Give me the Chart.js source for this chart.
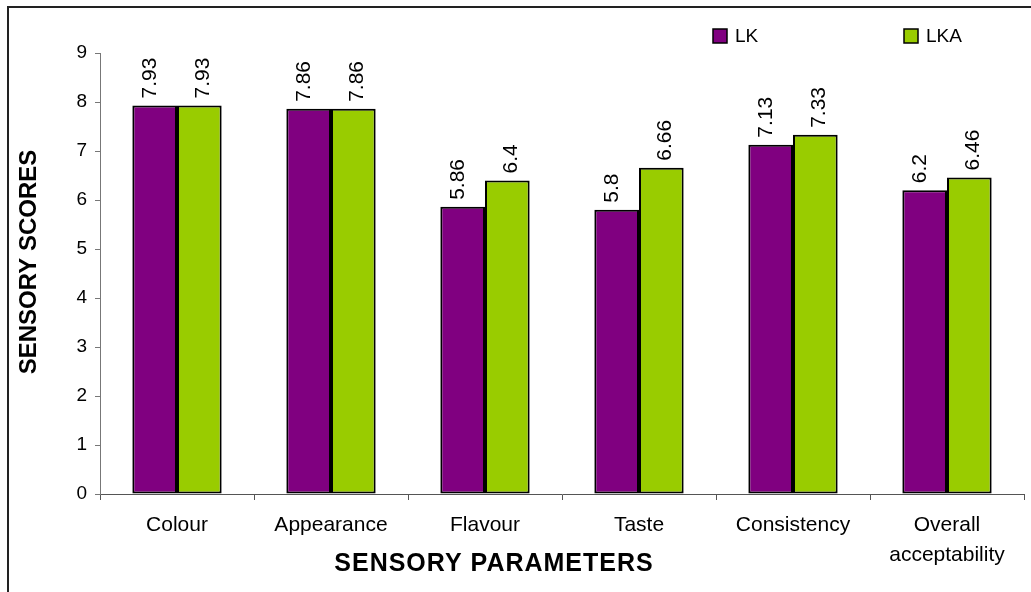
<!DOCTYPE html>
<html>
<head>
<meta charset="utf-8">
<script src="https://cdn.jsdelivr.net/npm/chart.js@4.4.1/dist/chart.umd.min.js"></script>
<style>
    html, body { margin: 0; padding: 0; background: #fff; }
    #wrap { width: 1031px; height: 592px; position: relative; }
</style>
</head>
<body>
<div id="wrap"><canvas id="sensoryChart"></canvas></div>
<script>
// Parámetros sensoriales y puntuaciones
const parametros = ['Colour', 'Appearance', 'Flavour', 'Taste', 'Consistency', ['Overall', 'acceptability']];
const puntajesLK = [7.93, 7.86, 5.86, 5.8, 7.13, 6.2];
const puntajesLKA = [7.93, 7.86, 6.4, 6.66, 7.33, 6.46];
const yTicks = [0, 1, 2, 3, 4, 5, 6, 7, 8, 9];

const FONT = 'Arial, "Liberation Sans", sans-serif';

// Marco, títulos de ejes, leyenda y etiquetas de valor
const extras = {
    id: 'extras',
    afterDraw(chart) {
        const ctx = chart.ctx;
        ctx.save();

        // marco exterior
        ctx.strokeStyle = '#222';
        ctx.lineWidth = 2;
        ctx.strokeRect(8, 7, 1040, 600);

        // títulos de ejes
        ctx.fillStyle = '#000';
        ctx.textAlign = 'center';
        ctx.textBaseline = 'middle';
        ctx.save();
        ctx.font = 'bold 25px ' + FONT;
        ctx.letterSpacing = '1px';
        ctx.fillText('SENSORY PARAMETERS', 494, 564);
        ctx.restore();
        ctx.save();
        ctx.font = 'bold 24px ' + FONT;
        ctx.translate(29, 262);
        ctx.rotate(-Math.PI / 2);
        ctx.fillText('SENSORY SCORES', 0, 0);
        ctx.restore();

        // leyenda
        const legendX = [713, 904];
        ctx.font = '19px ' + FONT;
        ctx.textAlign = 'left';
        chart.data.datasets.forEach((ds, i) => {
            const x = legendX[i];
            ctx.fillStyle = ds.backgroundColor;
            ctx.fillRect(x, 29, 14, 14);
            ctx.strokeStyle = '#000';
            ctx.lineWidth = 1.5;
            ctx.strokeRect(x, 29, 14, 14);
            ctx.fillStyle = '#000';
            ctx.fillText(ds.label, x + 22, 37);
        });

        // valores sobre las barras
        ctx.font = '21px ' + FONT;
        ctx.textAlign = 'left';
        ctx.textBaseline = 'middle';
        chart.data.datasets.forEach((ds, i) => {
            const meta = chart.getDatasetMeta(i);
            const shift = i === 0 ? -4 : 4;
            meta.data.forEach((bar, j) => {
                ctx.save();
                ctx.translate(bar.x + shift, bar.y - 7);
                ctx.rotate(-Math.PI / 2);
                ctx.fillText(String(ds.data[j]), 0, 0);
                ctx.restore();
            });
        });
        ctx.restore();
    }
};

const ctx = document.getElementById('sensoryChart').getContext('2d');
const chart = new Chart(ctx, {
    type: 'bar',
    data: {
        labels: parametros,
        datasets: [
            {
                label: 'LK',
                data: puntajesLK,
                backgroundColor: '#800080',
                borderColor: '#000',
                borderWidth: 2,
                borderSkipped: false
            },
            {
                label: 'LKA',
                data: puntajesLKA,
                backgroundColor: '#99CC00',
                borderColor: '#000',
                borderWidth: 2,
                borderSkipped: false
            }
        ]
    },
    options: {
        responsive: true,
        maintainAspectRatio: false,
        animation: false,
        layout: {
            padding: { left: 0, top: 53, right: 7, bottom: 0 }
        },
        datasets: {
            bar: { categoryPercentage: 0.58, barPercentage: 1 }
        },
        scales: {
            x: {
                offset: true,
                grid: {
                    offset: true,
                    drawOnChartArea: false,
                    drawTicks: true,
                    tickLength: 6,
                    color: '#555'
                },
                border: { display: true, color: '#555', width: 1 },
                ticks: {
                    color: '#000',
                    padding: 10,
                    font: { family: FONT, size: 21, lineHeight: 1.43 }
                },
                afterFit: (scale) => { scale.height = 98; }
            },
            y: {
                min: 0,
                max: 9,
                afterBuildTicks: (scale) => {
                    scale.ticks = yTicks.map(v => ({ value: v }));
                },
                grid: {
                    drawOnChartArea: false,
                    drawTicks: true,
                    tickLength: 5,
                    color: '#777'
                },
                border: { display: true, color: '#777', width: 1 },
                ticks: {
                    color: '#000',
                    padding: 8,
                    font: { family: FONT, size: 19 }
                },
                afterFit: (scale) => { scale.width = 100; }
            }
        },
        plugins: {
            legend: { display: false },
            tooltip: { enabled: false }
        }
    },
    plugins: [extras]
});
</script>
</body>
</html>
